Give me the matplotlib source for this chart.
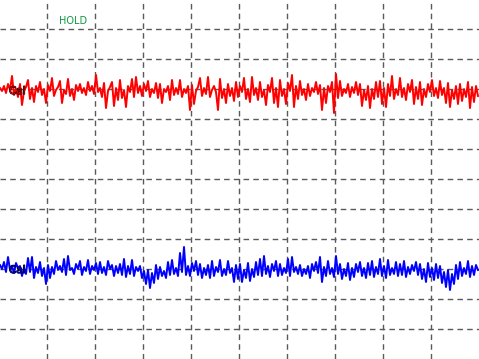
import matplotlib
matplotlib.use("Agg")
import matplotlib.pyplot as plt
import matplotlib.patheffects as pe
import numpy as np

# screen units: x = pixel column, y = pixel row (0 at top)
SAMPLE_STEP = 2

red_y = [
    88, 91, 86, 93, 84, 90, 76, 95, 89, 97,
    84, 105, 91, 87, 80, 99, 88, 102, 86, 92,
    82, 95, 89, 103, 85, 91, 78, 96, 90, 87,
    81, 103, 90, 94, 79, 96, 89, 100, 85, 91,
    84, 93, 88, 95, 82, 91, 86, 94, 75, 92,
    88, 97, 83, 108, 91, 87, 82, 106, 88, 100,
    80, 98, 90, 107, 86, 92, 79, 97, 77, 93,
    86, 96, 84, 91, 81, 97, 89, 93, 83, 98,
    84, 103, 89, 92, 86, 100, 80, 95, 88, 94,
    80, 97, 89, 93, 86, 110, 85, 104, 91, 87,
    78, 96, 88, 94, 77, 97, 90, 86, 92, 110,
    79, 98, 89, 103, 84, 96, 88, 101, 82, 97,
    86, 92, 78, 99, 89, 102, 77, 95, 88, 100,
    82, 97, 90, 105, 85, 92, 78, 103, 88, 107,
    80, 96, 89, 104, 83, 91, 75, 107, 86, 99,
    81, 95, 89, 100, 84, 96, 88, 92, 82, 94,
    85, 110, 88, 103, 86, 92, 82, 113, 74, 98,
    81, 96, 89, 93, 84, 97, 87, 93, 82, 95,
    84, 106, 90, 100, 86, 108, 89, 99, 82, 97,
    81, 104, 88, 107, 84, 96, 76, 99, 89, 95,
    78, 97, 88, 100, 84, 92, 80, 104, 87, 99,
    82, 105, 89, 97, 84, 92, 80, 96, 88, 98,
    81, 95, 88, 103, 83, 107, 90, 99, 86, 104,
    84, 101, 89, 97, 82, 108, 87, 102, 86, 96,
]

blue_y = [
    265, 269, 262, 272, 257, 270, 266, 273, 263, 268,
    266, 276, 268, 274, 258, 272, 257, 278, 267, 273,
    262, 276, 268, 284, 265, 278, 267, 274, 261, 270,
    266, 272, 259, 275, 256, 270, 268, 274, 264, 269,
    261, 275, 267, 271, 260, 274, 266, 270, 263, 274,
    262, 273, 267, 275, 261, 269, 265, 276, 266, 273,
    264, 275, 259, 277, 266, 274, 260, 276, 267, 271,
    266, 278, 271, 284, 270, 288, 273, 283, 265, 279,
    267, 276, 271, 278, 262, 275, 260, 274, 268, 276,
    253, 272, 247, 275, 266, 276, 263, 271, 261, 275,
    264, 278, 268, 275, 265, 278, 261, 276, 267, 272,
    260, 276, 269, 275, 261, 273, 268, 282, 265, 279,
    264, 282, 270, 278, 263, 281, 269, 277, 262, 275,
    259, 276, 256, 274, 266, 277, 264, 271, 261, 276,
    264, 275, 268, 273, 259, 276, 257, 272, 267, 274,
    265, 276, 269, 274, 266, 278, 264, 271, 262, 273,
    257, 282, 267, 276, 261, 274, 268, 277, 256, 274,
    264, 279, 269, 276, 263, 280, 268, 277, 264, 272,
    262, 276, 268, 278, 263, 275, 261, 277, 267, 274,
    259, 276, 266, 278, 260, 275, 268, 274, 262, 276,
    264, 275, 261, 277, 267, 274, 265, 271, 262, 275,
    264, 279, 269, 282, 263, 277, 268, 280, 264, 278,
    266, 283, 272, 287, 270, 290, 274, 284, 265, 279,
    262, 276, 268, 274, 261, 277, 266, 275, 265, 270,
]

grid_x = [47, 95, 143, 191, 239, 287, 335, 383, 431]
grid_y = [29, 59, 89, 119, 149, 179, 209, 239, 269, 299, 329]

fig = plt.figure(figsize=(4.79, 3.59), dpi=100)
ax = fig.add_axes([0, 0, 1, 1])
ax.set_xlim(0, 479)
ax.set_ylim(359, 0)
ax.set_axis_off()

for gx in grid_x:
    ax.axvline(gx, color="#5a5a5a", lw=1, ls=(0, (4, 3)), zorder=1)
for gy in grid_y:
    ax.axhline(gy, color="#5a5a5a", lw=1, ls=(0, (4, 3)), zorder=1)

xs = np.arange(len(red_y)) * SAMPLE_STEP
ax.plot(xs, red_y, color="#ff0000", lw=1.4, zorder=3)
xs = np.arange(len(blue_y)) * SAMPLE_STEP
ax.plot(xs, blue_y, color="#0000ff", lw=1.4, zorder=3)

outline = [pe.Stroke(linewidth=0.8, foreground="black"), pe.Normal()]
ax.text(9, 91, "Cal", fontsize=7.5, color="#ff0000", va="center", ha="left",
        path_effects=outline, zorder=4)
ax.text(9, 270, "Cal", fontsize=7.5, color="#0000ff", va="center", ha="left",
        path_effects=outline, zorder=4)

ax.text(59, 21, "HOLD", fontsize=7, color="#109a40", va="center", ha="left")

fig.savefig("out.png", dpi=100)
